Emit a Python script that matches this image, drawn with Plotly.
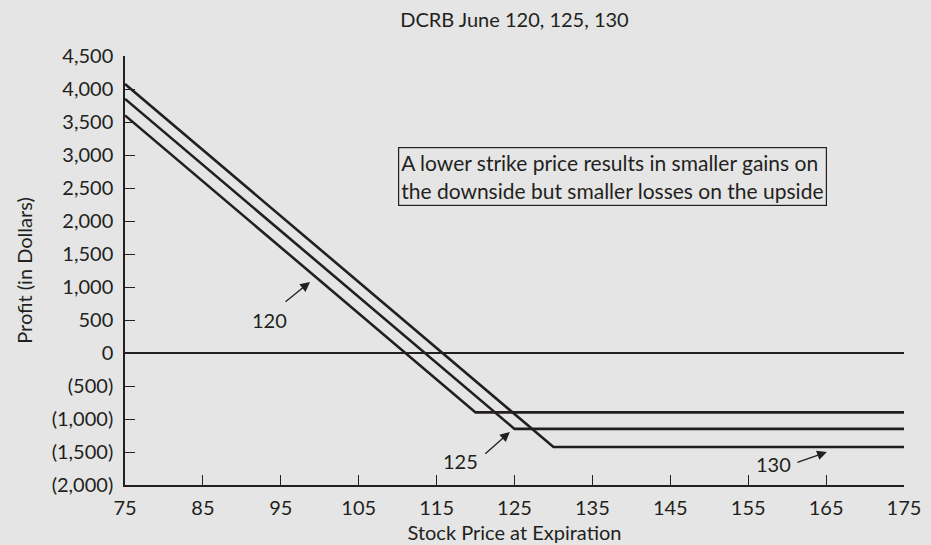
import plotly.graph_objects as go

# strike prices and profit at expiration
strikes = ["120", "125", "130"]
x_pts = {
    "120": [75, 120, 175],
    "125": [75, 125, 175],
    "130": [75, 130, 175],
}
y_pts = {
    "120": [3600, -900, -900],
    "125": [3850, -1150, -1150],
    "130": [4075, -1425, -1425],
}

x_ticks = [75, 85, 95, 105, 115, 125, 135, 145, 155, 165, 175]
y_ticks = [4500, 4000, 3500, 3000, 2500, 2000, 1500, 1000, 500, 0,
           -500, -1000, -1500, -2000]
y_tick_labels = ["4,500", "4,000", "3,500", "3,000", "2,500", "2,000", "1,500",
                 "1,000", "500", "0", "(500)", "(1,000)", "(1,500)", "(2,000)"]

ink = "#231f20"
bg = "#e5e5e5"
font_family = "Lato"
fs = 20

fig = go.Figure()
for k in strikes:
    fig.add_trace(go.Scatter(
        x=x_pts[k], y=y_pts[k], mode="lines",
        line={"width": 2.6, "color": ink},
        name=k, showlegend=False, hoverinfo="skip",
    ))

# labels with arrows
labels = [
    # text, label x, label y, head x, head y, ax, ay
    ("120", 93.6, 500, 98.75, 1076, -26, 21),
    ("125", 118.1, -1636, 124.4, -1197, -26, 23),
    ("130", 158.2, -1682, 165.1, -1500, -31, 11),
]
for txt, lx, ly, hx, hy, ax, ay in labels:
    fig.add_annotation(x=lx, y=ly, text=txt, showarrow=False,
                       font={"size": fs, "color": ink, "family": font_family})
    fig.add_annotation(x=hx, y=hy, text="", showarrow=True, ax=ax, ay=ay,
                       arrowhead=2, arrowsize=1.5, arrowwidth=1.3, arrowcolor=ink)

fig.add_annotation(
    x=110, y=3125, xanchor="left", yanchor="top", align="left",
    text="A lower strike price results in smaller gains on<br>"
         "the downside but smaller losses on the upside",
    showarrow=False, bordercolor=ink, borderwidth=1.2, borderpad=2,
    font={"size": 21, "color": ink, "family": font_family},
)

fig.update_xaxes(
    range=[75, 175], tickvals=x_ticks, ticks="inside", ticklen=10,
    tickwidth=1.3, tickcolor=ink, showgrid=False, zeroline=False,
    showline=True, linewidth=1.5, linecolor=ink, ticklabelstandoff=4,
    automargin=False,
    title={"text": "Stock Price at Expiration", "standoff": 8,
           "font": {"size": fs, "color": ink, "family": font_family}},
    tickfont={"size": fs, "color": ink, "family": font_family},
)
fig.update_yaxes(
    range=[-2000, 4500], tickvals=y_ticks, ticktext=y_tick_labels,
    ticks="inside", ticklen=10, tickwidth=1.3, tickcolor=ink,
    showgrid=False, zeroline=True, zerolinewidth=1.5, zerolinecolor=ink,
    showline=True, linewidth=1.5, linecolor=ink, ticklabelstandoff=6,
    automargin=False,
    title={"text": "Profit (in Dollars)", "standoff": 14,
           "font": {"size": fs, "color": ink, "family": font_family}},
    tickfont={"size": fs, "color": ink, "family": font_family},
)

fig.update_layout(
    width=931, height=545,
    margin={"l": 125, "r": 27, "t": 56, "b": 60},
    paper_bgcolor=bg, plot_bgcolor=bg,
    title={"text": "DCRB June 120, 125, 130", "x": 0.5526, "xanchor": "center",
           "y": 0.963, "yanchor": "middle",
           "font": {"size": fs, "color": ink, "family": font_family}},
)

fig.write_html(
    "out.html",
    config={"displayModeBar": False},
    post_script="document.body.style.margin='0';"
                "document.body.style.background='" + bg + "';",
)
